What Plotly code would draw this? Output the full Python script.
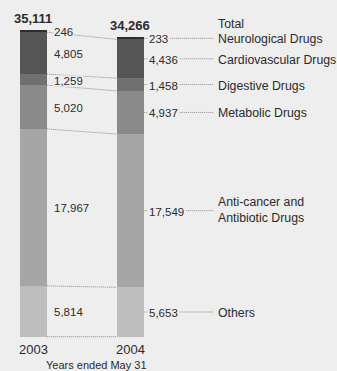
import plotly.graph_objects as go

# Sales by therapeutic category (millions of yen), stacked bottom to top
years = ["2003", "2004"]
categories = ["Others", "Anti-cancer and Antibiotic Drugs", "Metabolic Drugs",
              "Digestive Drugs", "Cardiovascular Drugs", "Neurological Drugs"]
sales_2003 = [5814, 17967, 5020, 1259, 4805, 246]
sales_2004 = [5653, 17549, 4937, 1458, 4436, 233]
totals = [35111, 34266]
segment_colors = ["#bebebe", "#a6a6a6", "#8a8a8a", "#707070", "#555555", "#2e2e2e"]

BG = "#eeeeee"
TEXT = "#2b2b2b"
LINE = "#8c8c8c"
FONT = "Liberation Sans, Arial, sans-serif"

BAR_W = 0.278          # bar width in x units (bars at x=0 and x=1)
LABEL_X = 1.882        # left edge of the category name column
LEADER_END = 1.863

def cumulative(vals):
    out, s = [], 0
    for v in vals:
        out.append(s)
        s += v
    return out

base03 = cumulative(sales_2003)
base04 = cumulative(sales_2004)
mid03 = [b + v / 2 for b, v in zip(base03, sales_2003)]
mid04 = [b + v / 2 for b, v in zip(base04, sales_2004)]

fig = go.Figure()
for i, name in enumerate(categories):
    fig.add_trace(go.Bar(
        x=[0, 1], y=[sales_2003[i], sales_2004[i]], name=name,
        width=BAR_W, marker=dict(color=segment_colors[i], line=dict(width=0)),
        hoverinfo="skip", showlegend=False))

shapes = []
# dotted connectors between the two bars at each segment boundary
for i in range(len(categories)):
    shapes.append(dict(type="line", xref="x", yref="y",
                       x0=BAR_W / 2, x1=1 - BAR_W / 2,
                       y0=base03[i], y1=base04[i],
                       line=dict(color=LINE, width=1, dash="1px,1px")))
# leader lines from the 2004 values to the category names
for i in range(len(categories)):
    shapes.append(dict(type="line", xref="x", yref="y",
                       x0=1 + BAR_W / 2, x1=LEADER_END,
                       y0=mid04[i], y1=mid04[i],
                       line=dict(color=LINE, width=1, dash="1px,1px")))

ann = []
for i in range(len(categories)):
    ann.append(dict(x=BAR_W / 2, y=mid03[i], xref="x", yref="y",
                    text=f"{sales_2003[i]:,}", showarrow=False,
                    xanchor="left", yanchor="middle", xshift=6, yshift=-1,
                    bgcolor=BG, borderpad=0, height=10,
                    font=dict(family=FONT, size=11.5, color=TEXT)))
    ann.append(dict(x=1 + BAR_W / 2, y=mid04[i], xref="x", yref="y",
                    text=f"{sales_2004[i]:,}", showarrow=False,
                    xanchor="left", yanchor="middle", xshift=3, yshift=-1,
                    bgcolor=BG, borderpad=1,
                    font=dict(family=FONT, size=11.5, color=TEXT)))

for i, name in enumerate(categories):
    if name == "Anti-cancer and Antibiotic Drugs":
        ann.append(dict(x=LABEL_X, y=mid04[i], xref="x", yref="y",
                        text="Anti-cancer and", showarrow=False,
                        xanchor="left", yanchor="middle", yshift=8.5,
                        font=dict(family=FONT, size=12.3, color=TEXT)))
        ann.append(dict(x=LABEL_X, y=mid04[i], xref="x", yref="y",
                        text="Antibiotic Drugs", showarrow=False,
                        xanchor="left", yanchor="middle", yshift=-7.5,
                        font=dict(family=FONT, size=12.3, color=TEXT)))
    else:
        ann.append(dict(x=LABEL_X, y=mid04[i], xref="x", yref="y",
                        text=name, showarrow=False,
                        xanchor="left", yanchor="middle", yshift=-1,
                        font=dict(family=FONT, size=12.3, color=TEXT)))
ann.append(dict(x=LABEL_X, y=mid04[-1], xref="x", yref="y",
                text="Total", showarrow=False,
                xanchor="left", yanchor="middle", yshift=14,
                font=dict(family=FONT, size=12.3, color=TEXT)))

# totals above the bars
for j, t in enumerate(totals):
    ann.append(dict(x=j, y=t, xref="x", yref="y", text=f"<b>{t:,}</b>",
                    showarrow=False, xanchor="center", yanchor="bottom", yshift=2,
                    font=dict(family=FONT, size=13, color=TEXT)))

# year labels and axis caption
for j, yr in enumerate(years):
    ann.append(dict(x=j, y=0, xref="x", yref="y", text=yr, showarrow=False,
                    xanchor="center", yanchor="top", yshift=-3,
                    font=dict(family=FONT, size=13, color=TEXT)))
ann.append(dict(x=0.648, y=0, xref="x", yref="y", text="Years ended May 31",
                showarrow=False, xanchor="center", yanchor="top", yshift=-20,
                font=dict(family=FONT, size=11, color=TEXT)))

px_per_unit = 306.7 / 35111
fig.update_layout(
    width=337, height=371,
    margin=dict(l=0, r=0, t=0, b=0),
    paper_bgcolor=BG, plot_bgcolor=BG,
    barmode="stack", bargap=0,
    xaxis=dict(visible=False, range=[-33.3 / 97, (337 - 33.3) / 97], fixedrange=True),
    yaxis=dict(visible=False, range=[-(371 - 336.7) / px_per_unit, 336.7 / px_per_unit],
               fixedrange=True),
    shapes=shapes, annotations=ann,
)

fig.write_html("out.html")
